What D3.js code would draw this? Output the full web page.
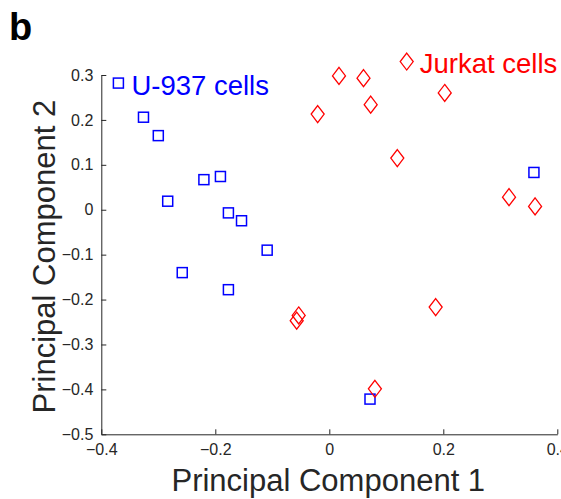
<!DOCTYPE html>
<html>
<head>
<meta charset="utf-8">
<script src="https://cdn.jsdelivr.net/npm/d3@7"></script>
<style>
  html, body { margin: 0; padding: 0; background: #fff; }
  svg { display: block; font-family: "Liberation Sans", Arial, sans-serif; }
</style>
</head>
<body>
<svg id="chart" width="561" height="499"></svg>
<script>
// ---- data ----
const u937X = [-0.326, -0.300, -0.220, -0.191, -0.2835, -0.177, -0.154, -0.109, -0.258, -0.177, 0.359, 0.0714];
const u937Y = [0.206, 0.165, 0.067, 0.074, 0.019, -0.007, -0.0245, -0.090, -0.140, -0.178, 0.083, -0.4216];
const jurkatX = [0.017, 0.060, 0.0726, -0.0204, 0.2025, 0.1193, 0.3153, 0.361, 0.1866, -0.0537, -0.0572, 0.080];
const jurkatY = [0.298, 0.293, 0.234, 0.213, 0.260, 0.115, 0.028, 0.0074, -0.2168, -0.2354, -0.247, -0.3987];
const labelNames = ["U-937 cells", "Jurkat cells"];
const labelX = [-0.370, 0.1358];
const labelY = [0.282, 0.330];
const xTicks = [-0.4, -0.2, 0, 0.2, 0.4];
const yTicks = [-0.5, -0.4, -0.3, -0.2, -0.1, 0, 0.1, 0.2, 0.3];
const xTitle = "Principal Component 1";
const yTitle = "Principal Component 2";
const panelLetter = "b";

// ---- layout ----
const svg = d3.select("#chart");
const axisColor = "#262626";
const blue = "#0000ff", red = "#ff0000";
const x = d3.scaleLinear().domain([-0.4, 0.4]).range([101.3, 557.3]);
const y = d3.scaleLinear().domain([-0.5, 0.3]).range([434.3, 75]);

const fmt = d => (d === 0 ? "0" : d3.format(".1f")(d));

// x axis
const gx = svg.append("g")
  .attr("transform", `translate(0,${y(-0.5)})`)
  .call(d3.axisBottom(x).tickValues(xTicks).tickFormat(fmt).tickSizeInner(-5).tickSizeOuter(0).tickPadding(9));
// y axis
const gy = svg.append("g")
  .attr("transform", `translate(${x(-0.4)},0)`)
  .call(d3.axisLeft(y).tickValues(yTicks).tickFormat(fmt).tickSizeInner(-5).tickSizeOuter(0).tickPadding(8));

[gx, gy].forEach(g => {
  g.select(".domain").attr("stroke", axisColor).attr("stroke-width", 1);
  g.selectAll(".tick line").attr("stroke", axisColor).attr("stroke-width", 1);
  g.selectAll(".tick text").attr("fill", axisColor)
    .style("font-family", "'Liberation Sans', Arial, sans-serif")
    .style("font-size", "16px");
});

// axis titles
svg.append("text")
  .attr("x", (x(-0.4) + x(0.4)) / 2 - 1)
  .attr("y", 491)
  .attr("text-anchor", "middle")
  .attr("fill", axisColor)
  .style("font-size", "31px")
  .text(xTitle);

svg.append("text")
  .attr("transform", `translate(55,${(y(-0.5) + y(0.3)) / 2 + 2}) rotate(-90)`)
  .attr("text-anchor", "middle")
  .attr("fill", axisColor)
  .style("font-size", "31px")
  .text(yTitle);

// panel letter
svg.append("text")
  .attr("x", 9).attr("y", 40)
  .style("font-weight", "bold")
  .style("font-size", "38px")
  .attr("fill", "#000")
  .text(panelLetter);

// markers
const sq = 10;
const dw = 6.5, dh = 8.5;
const diamond = `M0,${-dh}L${dw},0L0,${dh}L${-dw},0Z`;

const u937 = u937X.map((v, i) => ({ x: v, y: u937Y[i] }));
const jurkat = jurkatX.map((v, i) => ({ x: v, y: jurkatY[i] }));

svg.append("g").selectAll("rect").data(u937).join("rect")
  .attr("x", d => x(d.x) - sq / 2)
  .attr("y", d => y(d.y) - sq / 2)
  .attr("width", sq).attr("height", sq)
  .attr("fill", "none").attr("stroke", blue).attr("stroke-width", 1.5);

svg.append("g").selectAll("path").data(jurkat).join("path")
  .attr("transform", d => `translate(${x(d.x)},${y(d.y)})`)
  .attr("d", diamond)
  .attr("fill", "none").attr("stroke", red).attr("stroke-width", 1.3);

// group labels with their marker
const labels = labelNames.map((n, i) => ({ name: n, x: labelX[i], y: labelY[i], color: i === 0 ? blue : red }));
labels.forEach((d, i) => {
  const cx = x(d.x), cy = y(d.y);
  if (i === 0) {
    svg.append("rect").attr("x", cx - sq / 2).attr("y", cy - sq / 2)
      .attr("width", sq).attr("height", sq)
      .attr("fill", "none").attr("stroke", blue).attr("stroke-width", 1.5);
  } else {
    svg.append("path").attr("transform", `translate(${cx},${cy})`).attr("d", diamond)
      .attr("fill", "none").attr("stroke", red).attr("stroke-width", 1.3);
  }
  svg.append("text")
    .attr("x", cx + 13)
    .attr("y", cy + 11.5)
    .attr("fill", d.color)
    .style("font-size", "27.5px")
    .text(d.name);
});
</script>
</body>
</html>
